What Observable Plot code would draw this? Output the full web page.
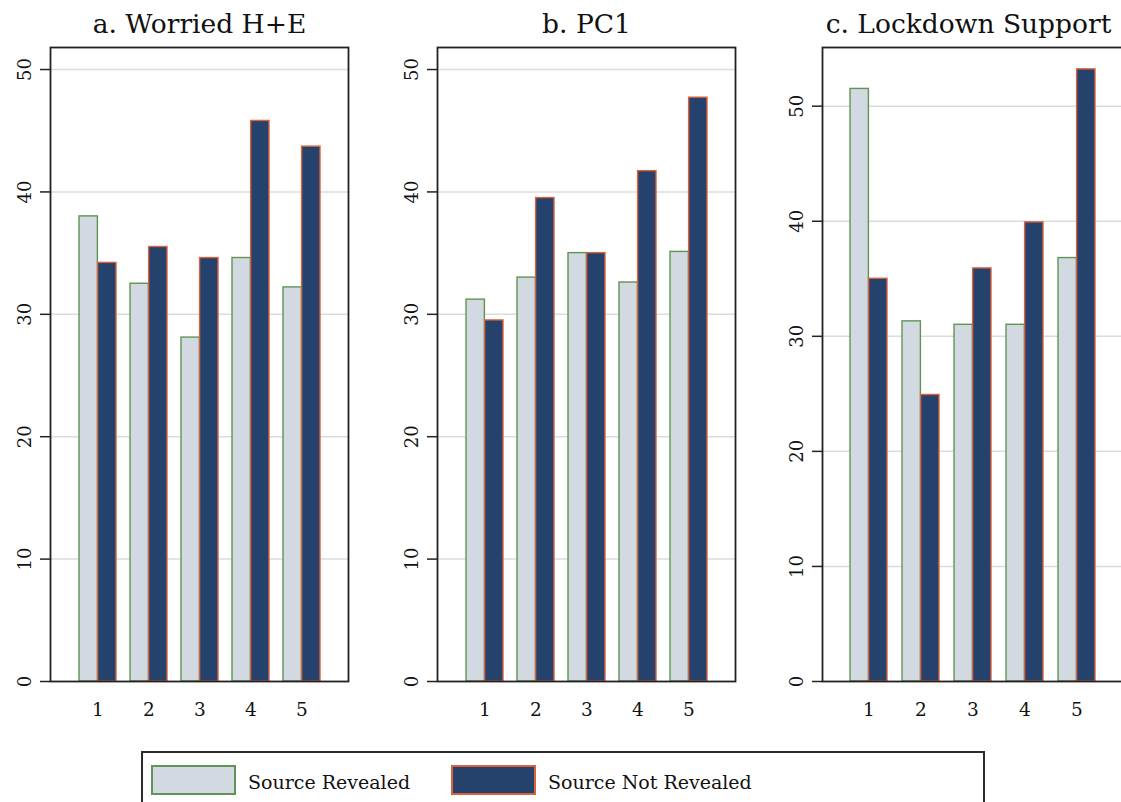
<!DOCTYPE html>
<html>
<head>
<meta charset="utf-8">
<script src="https://cdn.jsdelivr.net/npm/d3@7"></script>
<script src="https://cdn.jsdelivr.net/npm/@observablehq/plot@0.6"></script>
<style>
  html, body { margin: 0; padding: 0; background: #fff; overflow: hidden; }
  #root { position: relative; width: 1121px; height: 802px; overflow: hidden; font-family: "DejaVu Serif", serif; }
  .panel { position: absolute; top: 0; }
  #legend { position: absolute; left: 141px; top: 751px; width: 844px; height: 70px; border: 2px solid #2a2a2a; box-sizing: border-box; }
  .sw { position: absolute; top: 12px; width: 85px; height: 30px; box-sizing: border-box; border: 2px solid; }
  .lt { position: absolute; top: 18px; font-size: 19px; color: #111; white-space: nowrap; }
</style>
</head>
<body>
<div id="root"></div>
<script>
// ---- data ----
const categories = [1, 2, 3, 4, 5];
const worriedRevealed    = [38.0, 32.5, 28.1, 34.6, 32.2];
const worriedNotRevealed = [34.2, 35.5, 34.6, 45.8, 43.7];
const pc1Revealed        = [31.2, 33.0, 35.0, 32.6, 35.1];
const pc1NotRevealed     = [29.5, 39.5, 35.0, 41.7, 47.7];
const lockRevealed       = [51.5, 31.3, 31.0, 31.0, 36.8];
const lockNotRevealed    = [35.0, 24.9, 35.9, 39.9, 53.2];
const yTicks = [0, 10, 20, 30, 40, 50];
const panelTitles = ["a. Worried H+E", "b. PC1", "c. Lockdown Support"];
const seriesNames = ["Source Revealed", "Source Not Revealed"];
const fills = ["#d2d9e1", "#24426b"];
const strokes = ["#5f9455", "#d9623c"];

const panels = [
  {title: panelTitles[0], rev: worriedRevealed, not: worriedNotRevealed, yMax: 51.8, left: 0,   width: 380, ml: 50, mr: 32, tdx: 0},
  {title: panelTitles[1], rev: pc1Revealed,     not: pc1NotRevealed,     yMax: 51.8, left: 380, width: 380, ml: 57, mr: 25, tdx: 0},
  {title: panelTitles[2], rev: lockRevealed,    not: lockNotRevealed,    yMax: 55.1, left: 760, width: 370, ml: 62, mr: 6,  tdx: -5}
];

const root = document.getElementById("root");

for (const p of panels) {
  const revData = categories.map((c, i) => ({cat: c, v: p.rev[i]}));
  const notData = categories.map((c, i) => ({cat: c, v: p.not[i]}));
  const chart = Plot.plot({
    width: p.width,
    height: 721,
    marginLeft: p.ml,
    marginRight: p.mr,
    marginTop: 47,
    marginBottom: 40,
    style: {fontFamily: "DejaVu Serif, serif", background: "transparent", overflow: "visible"},
    x: {type: "band", domain: categories, paddingInner: 0.28, paddingOuter: 0.53, axis: null, label: null},
    y: {domain: [0, p.yMax], axis: null, label: null},
    marks: [
      Plot.ruleY(yTicks.filter(t => t > 0), {stroke: "#dcdcdc", strokeWidth: 1.5}),
      Plot.barY(revData, {x: "cat", y: "v", fill: fills[0], stroke: strokes[0], strokeWidth: 1.4, insetRight: 18.6}),
      Plot.barY(notData, {x: "cat", y: "v", fill: fills[1], stroke: strokes[1], strokeWidth: 1.4, insetLeft: 18.6}),
      Plot.frame({stroke: "#222", strokeWidth: 1.8}),
      Plot.axisY({ticks: yTicks, tickSize: 10, tickFormat: () => "", label: null, stroke: "#222", strokeWidth: 1.5}),
      Plot.text(yTicks, {y: d => d, text: d => String(d), frameAnchor: "left", rotate: -90, dx: -25, textAnchor: "middle", lineAnchor: "middle", fontSize: 18, fill: "#111"}),
      Plot.axisX({tickSize: 0, tickPadding: 21, fontSize: 18.5, fill: "#111", label: null}),
      Plot.text([p.title], {frameAnchor: "top", dx: p.tdx, dy: -23, lineAnchor: "middle", fontSize: 26.5, fill: "#111"})
    ]
  });
  chart.classList.add("panel");
  chart.style.left = p.left + "px";
  root.appendChild(chart);
}

// ---- legend ----
const legend = document.createElement("div");
legend.id = "legend";
const swLeft = [8, 308];
const txtLeft = [105, 405];
seriesNames.forEach((name, i) => {
  const sw = document.createElement("div");
  sw.className = "sw";
  sw.style.left = swLeft[i] + "px";
  sw.style.background = fills[i];
  sw.style.borderColor = strokes[i];
  legend.appendChild(sw);
  const t = document.createElement("div");
  t.className = "lt";
  t.style.left = txtLeft[i] + "px";
  t.textContent = name;
  legend.appendChild(t);
});
root.appendChild(legend);
</script>
</body>
</html>
